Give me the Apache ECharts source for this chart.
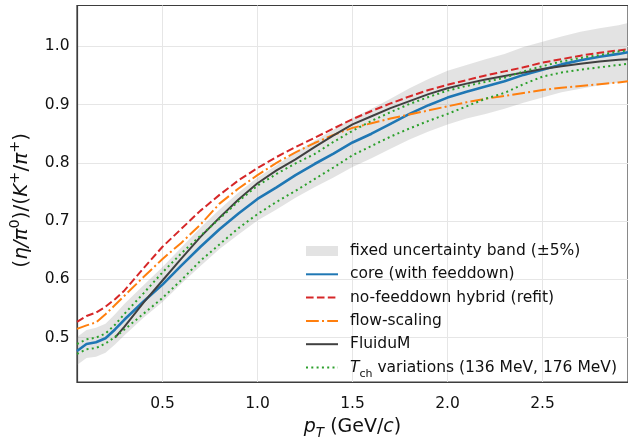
<!DOCTYPE html>
<html>
<head>
<meta charset="utf-8">
<script src="https://cdn.jsdelivr.net/npm/echarts@6/dist/echarts.min.js"></script>
<style>
html,body{margin:0;padding:0;background:#fff;}
#chart{width:628px;height:445px;}
</style>
</head>
<body>
<div id="chart"></div>
<script>
// ---- data ----
const pT = [0.05,0.1,0.15,0.2,0.25,0.3,0.4,0.5,0.6,0.7,0.8,0.9,1.0,1.1,1.2,1.3,1.4,1.5,1.6,1.7,1.8,1.9,2.0,2.1,2.2,2.3,2.4,2.5,2.6,2.7,2.8,2.9,2.95];
const coreVals = [0.477,0.489,0.492,0.499,0.514,0.531,0.562,0.591,0.624,0.656,0.686,0.713,0.738,0.758,0.779,0.798,0.816,0.835,0.850,0.867,0.884,0.899,0.912,0.922,0.931,0.940,0.951,0.960,0.969,0.976,0.982,0.987,0.990];
const bandLower = [0.453,0.465,0.467,0.474,0.488,0.504,0.534,0.561,0.593,0.623,0.652,0.677,0.701,0.720,0.740,0.758,0.775,0.793,0.808,0.824,0.840,0.854,0.866,0.876,0.884,0.893,0.903,0.912,0.921,0.927,0.933,0.938,0.941];
const bandUpper = [0.501,0.513,0.517,0.524,0.540,0.558,0.590,0.621,0.655,0.689,0.720,0.749,0.775,0.796,0.818,0.838,0.857,0.877,0.893,0.910,0.928,0.944,0.958,0.968,0.978,0.987,0.999,1.008,1.017,1.025,1.031,1.036,1.040];
const noFeeddownVals = [0.527,0.537,0.543,0.553,0.566,0.581,0.619,0.656,0.687,0.718,0.745,0.770,0.791,0.810,0.827,0.843,0.859,0.875,0.889,0.902,0.914,0.925,0.934,0.942,0.950,0.957,0.964,0.972,0.978,0.984,0.989,0.993,0.995];
const flowScalingVals = [0.515,0.521,0.526,0.540,0.556,0.572,0.604,0.635,0.663,0.694,0.730,0.756,0.779,0.800,0.818,0.834,0.848,0.860,0.868,0.876,0.883,0.890,0.897,0.904,0.910,0.915,0.920,0.925,0.929,0.932,0.935,0.938,0.940];
const fluiduMVals = [null,null,null,null,0.500,0.519,0.560,0.598,0.636,0.673,0.706,0.737,0.765,0.787,0.806,0.827,0.847,0.866,0.880,0.894,0.906,0.918,0.928,0.936,0.943,0.949,0.955,0.961,0.966,0.970,0.974,0.977,0.978];
const tchHighVals = [0.489,0.497,0.500,0.507,0.522,0.541,0.576,0.612,0.645,0.675,0.704,0.734,0.761,0.781,0.799,0.815,0.836,0.855,0.872,0.887,0.901,0.913,0.924,0.932,0.939,0.946,0.957,0.966,0.974,0.980,0.985,0.991,0.993];
const tchLowVals = [0.472,0.480,0.482,0.490,0.501,0.514,0.541,0.568,0.599,0.632,0.660,0.688,0.712,0.733,0.752,0.772,0.792,0.813,0.829,0.845,0.859,0.872,0.884,0.897,0.910,0.920,0.935,0.948,0.955,0.960,0.964,0.968,0.970];
const xTicks = [0.5,1.0,1.5,2.0,2.5];
const yTicks = [0.5,0.6,0.7,0.8,0.9,1.0];

const names = {
  band: 'fixed uncertainty band (±5%)',
  core: 'core (with feeddown)',
  nofd: 'no-feeddown hybrid (refit)',
  flow: 'flow-scaling',
  fluid: 'FluiduM',
  tch: 'Tch variations (136 MeV, 176 MeV)'
};

function pairs(vals){ return pT.map((x,i)=> vals[i]==null ? [x,null] : [x, vals[i]]); }

const FONT = 'DejaVu Sans';
const TXT = '#111111';
const BANDC = 'rgba(128,128,128,0.22)';
const chart = echarts.init(document.getElementById('chart'), null, {renderer:'canvas'});

function lineSeries(name, vals, color, width, type, z){
  return {
    type:'line', name:name, data:pairs(vals), symbol:'none', showSymbol:false,
    connectNulls:false, clip:true, z:z,
    lineStyle:{color:color, width:width, type:type, cap:'butt'},
    itemStyle:{color:color}, emphasis:{disabled:true}, animation:false
  };
}

const option = {
  animation:false,
  textStyle:{fontFamily:FONT},
  grid:{left:74, right:-3, top:5.5, bottom:54.3, show:true, borderColor:'#3d3d3d', borderWidth:1.2, backgroundColor:'transparent'},
  xAxis:{
    type:'value', min:0.05, max:2.95,
    axisLine:{show:true, lineStyle:{color:'#3d3d3d', width:1.2}},
    axisTick:{show:false, customValues:xTicks},
    axisLabel:{customValues:xTicks, color:TXT, fontSize:15.5, fontFamily:FONT, margin:14,
      formatter:v=>v.toFixed(1)},
    splitLine:{show:true, lineStyle:{color:'#e6e6e6', width:1}},
    name:'{i|p}{sub|T}{n| (GeV/}{i|c}{n|)}',
    nameLocation:'middle', nameGap:32,
    nameTextStyle:{color:TXT, fontFamily:FONT,
      rich:{
        n:{fontSize:19, lineHeight:26, fontFamily:FONT, color:TXT},
        i:{fontSize:19, lineHeight:26, fontStyle:'italic', fontFamily:FONT, color:TXT},
        sub:{fontSize:13.5, lineHeight:15, verticalAlign:'bottom', fontStyle:'italic', fontFamily:FONT, color:TXT}
      }}
  },
  yAxis:{
    type:'value', min:0.4238, max:1.0701,
    axisLine:{show:true, lineStyle:{color:'#3d3d3d', width:1.2}},
    axisTick:{show:false, customValues:yTicks},
    axisLabel:{customValues:yTicks, color:TXT, fontSize:15.5, fontFamily:FONT, margin:7.5,
      formatter:v=>v.toFixed(1)},
    splitLine:{show:true, lineStyle:{color:'#e6e6e6', width:1}},
    name:'{n|(}{i|η/π}{sup|0}{n|)/(}{i|K}{sup|+}{n|/}{i|π}{sup|+}{n|)}',
    nameLocation:'middle', nameGap:41, nameRotate:90,
    nameTextStyle:{color:TXT, fontFamily:FONT, padding:[0,13,0,0],
      rich:{
        n:{fontSize:20, lineHeight:28, fontFamily:FONT, color:TXT},
        i:{fontSize:20, lineHeight:28, fontStyle:'italic', fontFamily:FONT, color:TXT},
        sup:{fontSize:14.5, lineHeight:15, verticalAlign:'top', fontFamily:FONT, color:TXT}
      }}
  },
  legend:{
    orient:'vertical', left:305, top:243, padding:0, itemGap:7.3,
    itemWidth:32, itemHeight:10,
    selectedMode:false,
    itemStyle:{opacity:0},
    data:[
      {name:names.band, icon:'rect', itemStyle:{color:BANDC, opacity:1}},
      {name:names.core}, {name:names.nofd}, {name:names.flow}, {name:names.fluid}, {name:names.tch}
    ],
    formatter:function(n){
      if(n===names.tch) return '{i|T}{sub|ch}{n| variations (136 MeV, 176 MeV)}';
      return '{n|'+n+'}';
    },
    textStyle:{color:TXT, fontSize:15.5, fontFamily:FONT, padding:[0,0,0,7],
      rich:{
        n:{fontSize:15.5, lineHeight:16, fontFamily:FONT, color:TXT},
        i:{fontSize:15.5, lineHeight:16, fontStyle:'italic', fontFamily:FONT, color:TXT},
        sub:{fontSize:11, lineHeight:10, verticalAlign:'bottom', fontFamily:FONT, color:TXT, padding:[0,0,-4,0]}
      }}
  },
  series:[
    {
      type:'custom', name:names.band, coordinateSystem:'cartesian2d', clip:true, z:1,
      itemStyle:{color:BANDC},
      data:[[pT[0], coreVals[0]]],
      renderItem:function(params, api){
        const pts = [];
        for(let i=0;i<pT.length;i++) pts.push(api.coord([pT[i], bandUpper[i]]));
        for(let i=pT.length-1;i>=0;i--) pts.push(api.coord([pT[i], bandLower[i]]));
        return {type:'polygon', shape:{points:pts}, style:{fill:BANDC, stroke:null}};
      },
      animation:false, silent:true
    },
    lineSeries(names.core, coreVals, '#1f77b4', 2.6, 'solid', 3),
    lineSeries(names.nofd, noFeeddownVals, '#d62728', 2.0, [7.6,3.3], 3),
    lineSeries(names.flow, flowScalingVals, '#ff7f0e', 2.0, [12.8,3.2,2,3.2], 3),
    lineSeries(names.fluid, fluiduMVals, '#404040', 2.0, 'solid', 3),
    lineSeries(names.tch, tchHighVals, '#2ca02c', 2.0, [2,3.3], 3),
    lineSeries(names.tch, tchLowVals, '#2ca02c', 2.0, [2,3.3], 3)
  ]
};
chart.setOption(option);
</script>
</body>
</html>
